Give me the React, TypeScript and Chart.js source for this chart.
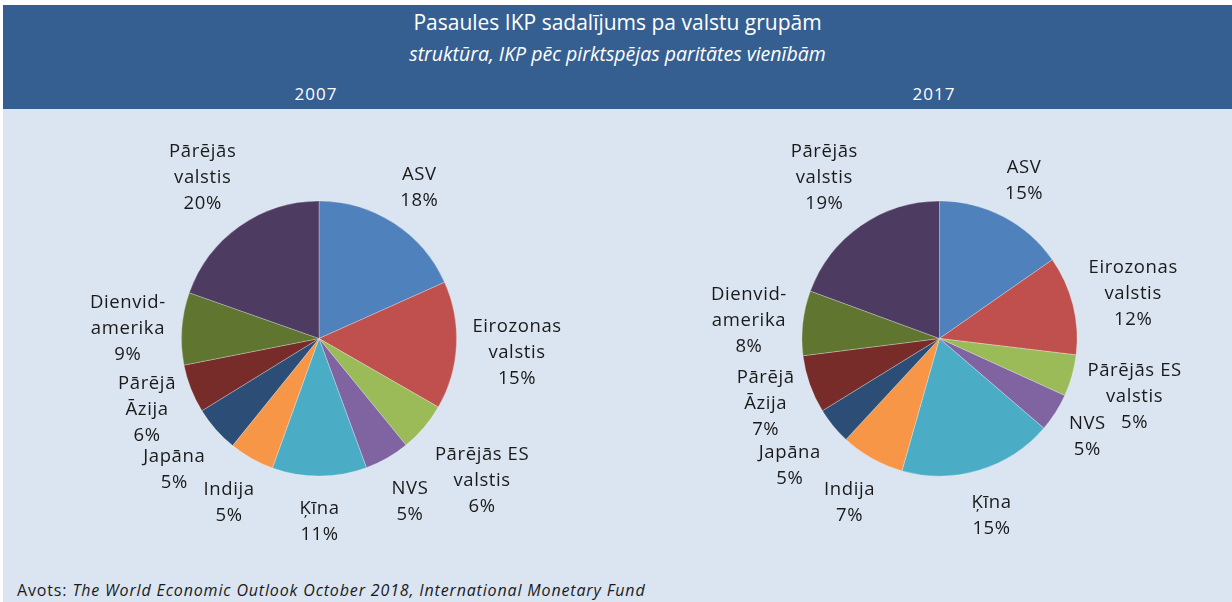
import React, { useEffect, useRef } from "react";
import { Chart, registerables } from "chart.js";

Chart.register(...registerables);

const categories = [
  "ASV",
  "Eirozonas\nvalstis",
  "Pārējās ES\nvalstis",
  "NVS",
  "Ķīna",
  "Indija",
  "Japāna",
  "Pārējā\nĀzija",
  "Dienvid-\namerika",
  "Pārējās\nvalstis",
];

const values2007 = [18.3, 15.0, 5.8, 5.3, 11.1, 5.3, 5.4, 5.7, 8.5, 19.6];
const values2017 = [15.3, 11.6, 4.9, 4.5, 18.1, 7.5, 4.3, 6.8, 7.6, 19.4];

const pctLabels2007 = ["18%", "15%", "6%", "5%", "11%", "5%", "5%", "6%", "9%", "20%"];
const pctLabels2017 = ["15%", "12%", "5%", "5%", "15%", "7%", "5%", "7%", "8%", "19%"];

const colors = [
  "#4f81bd",
  "#c0504d",
  "#9bbb59",
  "#8064a2",
  "#4bacc6",
  "#f79646",
  "#2c4d75",
  "#772c2a",
  "#5f7530",
  "#4d3b62",
];

const FONT = "'Open Sans', Lato, sans-serif";

const outsideLabels = {
  id: "outsideLabels",
  afterDatasetsDraw(chart: any, _args: any, opts: any) {
    const ctx = chart.ctx;
    const meta = chart.getDatasetMeta(0);
    const pcts: string[] = opts.pcts || [];
    const cats: string[] = chart.data.labels;
    const fontSize = opts.fontSize || 17;
    const lineH = opts.lineHeight || 26;
    const gap = opts.gap ?? 14;
    const yShift = opts.yShift ?? 0;
    ctx.save();
    ctx.font = `${fontSize}px ${FONT}`;
    if ("letterSpacing" in ctx) (ctx as any).letterSpacing = opts.letterSpacing || "0px";
    ctx.fillStyle = "#1a1a1a";
    ctx.textAlign = "center";
    ctx.textBaseline = "middle";
    meta.data.forEach((arc: any, i: number) => {
      const p = arc.getProps(["x", "y", "startAngle", "endAngle", "outerRadius"], true);
      const lines = [...String(cats[i]).split("\n"), pcts[i]];
      let w = 0;
      lines.forEach((l) => (w = Math.max(w, ctx.measureText(l).width)));
      const h = lines.length * lineH;
      const mid = (p.startAngle + p.endAngle) / 2;
      const cx = Math.cos(mid);
      const cy = Math.sin(mid);
      const tx = Math.abs(cx) > 1e-6 ? w / 2 / Math.abs(cx) : Infinity;
      const ty = Math.abs(cy) > 1e-6 ? h / 2 / Math.abs(cy) : Infinity;
      const d = p.outerRadius + gap + Math.min(tx, ty);
      const lx = p.x + cx * d;
      const ly = p.y + cy * d + yShift;
      lines.forEach((l, k) => {
        ctx.fillText(l, lx, ly - h / 2 + lineH / 2 + k * lineH);
      });
    });
    ctx.restore();
  },
};

function PieChart(props: {
  values: number[];
  pcts: string[];
  padding: { left: number; right: number; top: number; bottom: number };
  style: React.CSSProperties;
}) {
  const ref = useRef<HTMLCanvasElement | null>(null);
  useEffect(() => {
    if (!ref.current) return;
    const chart = new Chart(ref.current, {
      type: "pie",
      data: {
        labels: categories,
        datasets: [
          {
            data: props.values,
            backgroundColor: colors,
            borderColor: "rgba(255,255,255,0.35)",
            borderWidth: 0.8,
          },
        ],
      },
      options: {
        animation: false,
        responsive: false,
        maintainAspectRatio: false,
        layout: { padding: props.padding },
        plugins: {
          legend: { display: false },
          tooltip: { enabled: false },
          outsideLabels: {
            pcts: props.pcts,
            fontSize: 18.5,
            letterSpacing: "0.6px",
            lineHeight: 26,
            gap: 16,
            yShift: 4,
          },
        } as any,
      },
      plugins: [outsideLabels],
    });
    return () => chart.destroy();
  }, []);
  return <canvas ref={ref} width={616} height={460} style={props.style} />;
}

export default function App() {
  return (
    <div
      style={{
        position: "fixed",
        left: 0,
        top: 0,
        width: 1232,
        height: 602,
        background: "#ffffff",
        overflow: "hidden",
        fontFamily: FONT,
      }}
    >
      <div
        style={{
          position: "absolute",
          left: 3,
          top: 5,
          width: 1229,
          height: 597,
          background: "#dbe5f1",
        }}
      />
      <div
        style={{
          position: "absolute",
          left: 3,
          top: 5,
          width: 1229,
          height: 104,
          background: "#365f91",
          color: "#ffffff",
        }}
      >
        <div
          style={{
            position: "absolute",
            left: 0,
            width: 1229,
            top: 3,
            textAlign: "center",
            fontSize: 21,
            lineHeight: "28px",
          }}
        >
          Pasaules IKP sadalījums pa valstu grupām
        </div>
        <div
          style={{
            position: "absolute",
            left: 0,
            width: 1229,
            top: 36,
            textAlign: "center",
            fontSize: 19.5,
            fontStyle: "italic",
            lineHeight: "26px",
          }}
        >
          struktūra, IKP pēc pirktspējas paritātes vienībām
        </div>
        <div
          style={{
            position: "absolute",
            left: 260,
            width: 106,
            top: 77,
            textAlign: "center",
            fontSize: 17,
            letterSpacing: "1px",
            lineHeight: "24px",
          }}
        >
          2007
        </div>
        <div
          style={{
            position: "absolute",
            left: 878,
            width: 106,
            top: 77,
            textAlign: "center",
            fontSize: 17,
            letterSpacing: "1px",
            lineHeight: "24px",
          }}
        >
          2017
        </div>
      </div>
      <PieChart
        values={values2007}
        pcts={pctLabels2007}
        padding={{ left: 181, right: 159, top: 91.5, bottom: 92.5 }}
        style={{ position: "absolute", left: 0, top: 109, width: 616, height: 460 }}
      />
      <PieChart
        values={values2017}
        pcts={pctLabels2017}
        padding={{ left: 185.5, right: 154.5, top: 91.5, bottom: 92.5 }}
        style={{ position: "absolute", left: 616, top: 109, width: 616, height: 460 }}
      />
      <div
        style={{
          position: "absolute",
          left: 17,
          top: 579,
          fontSize: 16,
          letterSpacing: "0.85px",
          lineHeight: "22px",
          color: "#1a1a1a",
          whiteSpace: "nowrap",
        }}
      >
        Avots: <i>The World Economic Outlook October 2018, International Monetary Fund</i>
      </div>
    </div>
  );
}
